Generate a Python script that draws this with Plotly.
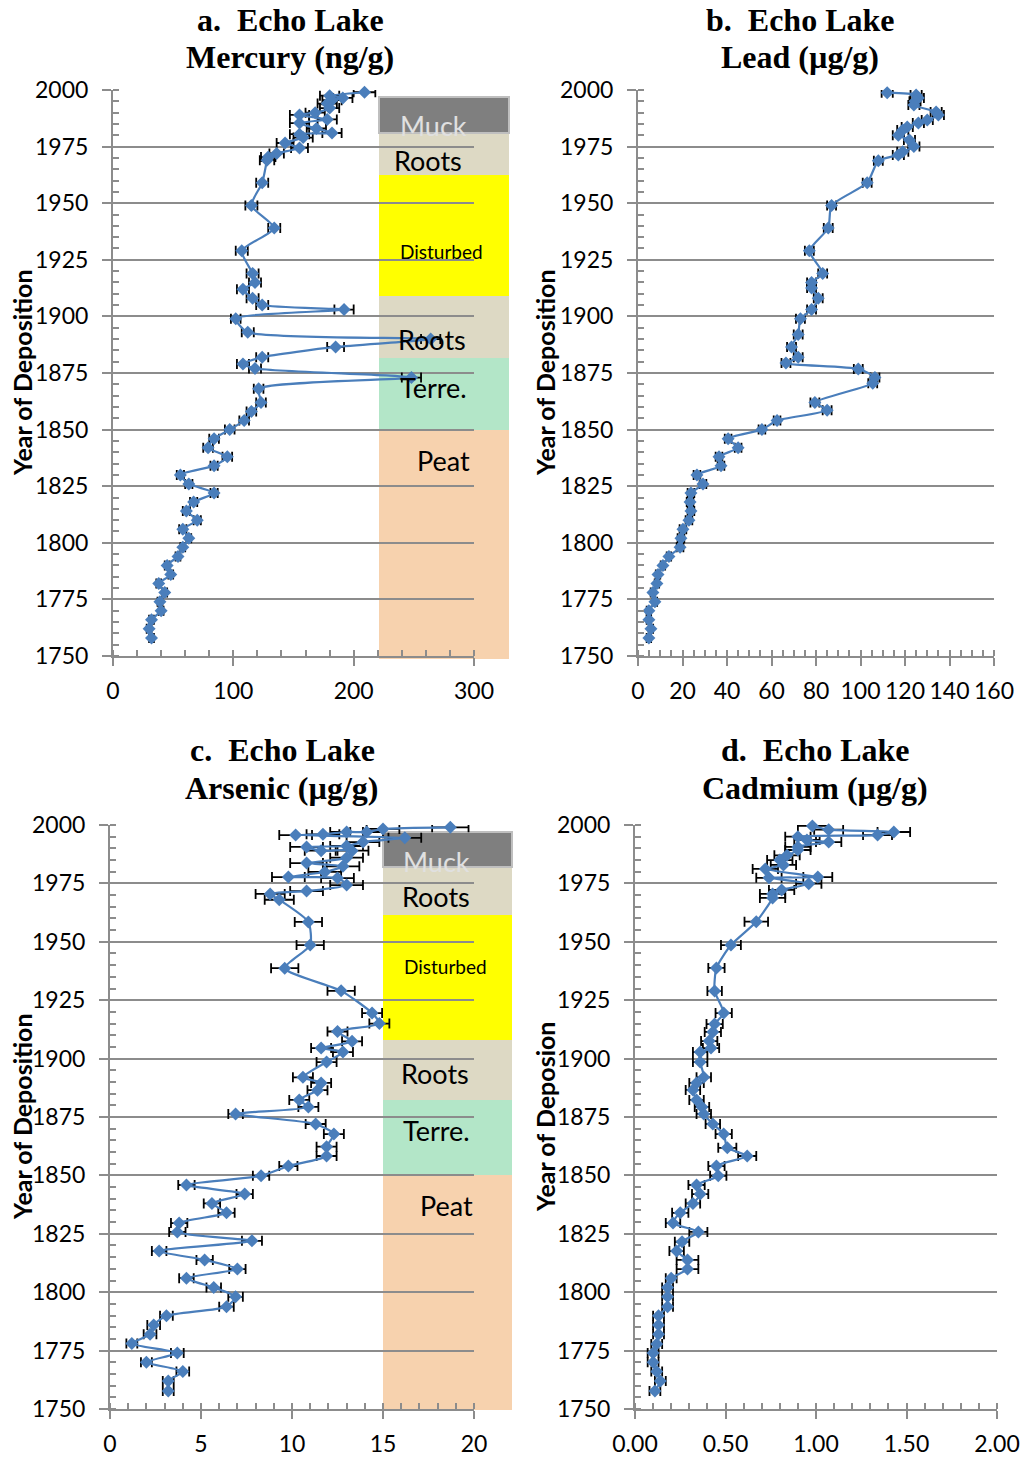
import plotly.graph_objects as go

# ---------------- data ----------------
hg_year = [1999, 1997.5, 1996.5, 1995.5, 1994, 1992, 1990, 1989, 1987, 1985.4, 1983, 1981, 1980.5, 1979, 1976.6,
           1974.4, 1972, 1970.4, 1969, 1959, 1949, 1939, 1929, 1919, 1915, 1912, 1908, 1905, 1903, 1899,
           1893, 1890, 1886.5, 1882, 1879, 1877, 1873, 1868, 1862, 1858, 1854, 1850, 1846, 1842, 1838,
           1834, 1830, 1826, 1822, 1818, 1814, 1810, 1806, 1802, 1798, 1794, 1790, 1786, 1782, 1778,
           1774, 1770, 1766, 1762, 1758]
hg_val = [209, 180, 191, 182, 178, 180, 168, 155, 178, 155, 169, 182, 155, 158, 143,
          155, 136, 129, 128, 124, 115, 134, 107, 116, 118, 108, 116, 124, 192, 102,
          112, 264, 185, 124, 108, 118, 248, 121, 123, 115, 109, 97, 84, 79, 95,
          84, 56, 63, 84, 67, 61, 70, 58, 63, 58, 54, 45, 48, 38, 43,
          39, 40, 32, 30, 32]
hg_err = [9, 8, 8, 8, 8, 8, 8, 8, 8, 8, 8, 8, 8, 8, 7,
          7, 6, 6, 6, 5, 5, 5, 5, 5, 5, 5, 5, 5, 8, 4,
          5, 8, 7, 5, 5, 5, 8, 4, 4, 4, 4, 4, 4, 4, 4,
          3, 3, 3, 3, 3, 3, 3, 3, 2, 2, 2, 2, 2, 2, 2,
          2, 2, 2, 2, 2]

pb_year = [1998.8, 1997.8, 1996.5, 1995, 1993.4, 1990.3, 1989, 1986.7, 1985.4, 1983.7, 1982.3, 1980, 1977.9,
           1975, 1972.7, 1971.3, 1968.7, 1959, 1949, 1939, 1929, 1919, 1915, 1912.5, 1908, 1903, 1899,
           1892, 1886.5, 1882, 1879.4, 1876.8, 1873, 1870.5, 1862, 1858.6, 1854, 1850, 1846, 1842, 1838,
           1834, 1830, 1826, 1822, 1818, 1814, 1810, 1806, 1802, 1798, 1794, 1790, 1786, 1782, 1778,
           1774, 1770, 1766, 1762, 1758]
pb_val = [112, 125, 126, 124.5, 124, 134, 135, 130, 126, 121, 119, 117, 122,
          124, 119, 117, 108, 103, 87, 85.5, 77, 83, 78, 78, 81, 78, 73,
          72, 69, 72, 66.5, 99, 106.5, 105.5, 79.5, 85, 62.5, 55.7, 40.5, 45, 36.4,
          37.3, 26.5, 29.2, 23.8, 23.4, 23.8, 22.9, 20.2, 19.3, 18.9, 13.9, 11.2, 9, 8.5, 6.7,
          7.6, 4.9, 4.9, 5.8, 4.9]
pb_err = [2.5, 2.5, 2.5, 2.5, 2.5, 2.5, 2.5, 2.5, 2.5, 2.5, 2.5, 2.5, 2.5,
          2.5, 2.5, 2.5, 2, 2, 2, 2, 2, 2, 2, 2, 2, 2, 2,
          2, 2, 2, 2, 2, 2, 2, 2, 2, 1.5, 1.5, 1.5, 1.5, 1.5,
          1.5, 1.5, 1.5, 1.5, 1.5, 1.5, 1.5, 1.5, 1.5, 1.5, 1, 1, 1, 1, 1,
          1, 1, 1, 1, 1]

as_year = [1999, 1998.3, 1997, 1997, 1996, 1995.7, 1994.5, 1992.7, 1991, 1990.6, 1989, 1989, 1986, 1983.7,
           1982.3, 1979.9, 1977.7, 1977.3, 1974.3, 1971.7, 1970.5, 1968, 1958.5, 1948.6, 1938.7, 1929,
           1919.5, 1915, 1911.6, 1907.4, 1904.5, 1902.8, 1898.5, 1892, 1889.6, 1886.5, 1882.3, 1879.3,
           1876.3, 1872, 1867.7, 1862.3, 1858.3, 1854, 1849.8, 1845.9, 1842, 1838, 1834, 1829.6, 1825.8,
           1822, 1817.6, 1813.8, 1809.9, 1806, 1802, 1798, 1793.8, 1789.9, 1786, 1782, 1778, 1774, 1770,
           1766, 1762, 1757.7]
as_val = [18.7, 15.0, 14.1, 13.0, 11.7, 10.2, 16.2, 13.9, 13.0, 10.8, 11.6, 13.3, 13.0, 10.8,
          12.8, 11.8, 9.8, 12.5, 13.0, 10.8, 8.8, 9.3, 10.9, 11.0, 9.6, 12.7,
          14.4, 14.8, 12.5, 13.3, 11.6, 12.8, 11.9, 10.6, 11.6, 11.4, 10.4, 10.9,
          6.9, 11.3, 12.3, 11.9, 11.9, 9.8, 8.3, 4.2, 7.4, 5.6, 6.4, 3.8, 3.7,
          7.8, 2.7, 5.2, 7.0, 4.2, 5.7, 6.9, 6.4, 3.1, 2.4, 2.2, 1.2, 3.7, 2.0,
          4.0, 3.2, 3.2]
as_err = [1.0, 0.9, 0.9, 0.9, 0.9, 0.9, 0.9, 0.9, 0.9, 0.9, 0.9, 0.9, 0.9, 0.9,
          0.9, 0.9, 0.9, 0.9, 0.9, 0.9, 0.8, 0.8, 0.75, 0.75, 0.75, 0.75,
          0.55, 0.55, 0.55, 0.55, 0.55, 0.55, 0.55, 0.55, 0.55, 0.55, 0.55, 0.55,
          0.4, 0.55, 0.55, 0.55, 0.55, 0.5, 0.45, 0.45, 0.45, 0.45, 0.45, 0.45, 0.45,
          0.55, 0.4, 0.45, 0.45, 0.4, 0.4, 0.4, 0.4, 0.35, 0.35, 0.35, 0.3, 0.35, 0.3,
          0.35, 0.3, 0.3]

cd_year = [1999.6, 1998, 1997, 1995.7, 1995, 1993.6, 1992.7, 1990.6, 1989.3, 1987, 1985, 1982.9, 1981.2,
           1977.7, 1977.4, 1974.9, 1972.2, 1970.5, 1968.8, 1958.6, 1948.6, 1938.8, 1928.9, 1919.5, 1914.8,
           1911.4, 1907.5, 1904.5, 1902.8, 1898.5, 1892, 1889.6, 1886.6, 1882.3, 1879.3, 1876.3, 1872,
           1867.7, 1861.8, 1858.3, 1854, 1849.8, 1845.9, 1842, 1838, 1834, 1829.6, 1825.8, 1821.6, 1817.6,
           1813.8, 1809.9, 1806, 1802, 1798, 1793.8, 1789.9, 1786, 1782, 1777.8, 1774, 1770, 1766, 1762,
           1757.7]
cd_val = [0.98, 1.07, 1.43, 1.34, 0.90, 0.95, 1.07, 0.90, 0.90, 0.84, 0.80, 0.82, 0.72,
          1.01, 0.74, 0.96, 0.81, 0.76, 0.76, 0.67, 0.53, 0.45, 0.44, 0.49, 0.44,
          0.43, 0.41, 0.42, 0.36, 0.36, 0.38, 0.34, 0.32, 0.34, 0.37, 0.38, 0.43,
          0.49, 0.51, 0.62, 0.45, 0.46, 0.34, 0.36, 0.32, 0.25, 0.21, 0.35, 0.26, 0.23,
          0.29, 0.29, 0.20, 0.18, 0.18, 0.18, 0.13, 0.13, 0.13, 0.12, 0.10, 0.10, 0.12, 0.14,
          0.11]
cd_err = [0.08, 0.08, 0.09, 0.08, 0.07, 0.07, 0.07, 0.07, 0.07, 0.07, 0.07, 0.07, 0.07,
          0.08, 0.07, 0.07, 0.07, 0.07, 0.07, 0.065, 0.055, 0.045, 0.04, 0.045, 0.045,
          0.045, 0.045, 0.045, 0.04, 0.04, 0.04, 0.04, 0.04, 0.04, 0.04, 0.04, 0.04,
          0.045, 0.05, 0.05, 0.045, 0.045, 0.045, 0.045, 0.04, 0.045, 0.04, 0.05, 0.04, 0.04,
          0.06, 0.06, 0.03, 0.03, 0.03, 0.03, 0.03, 0.03, 0.03, 0.03, 0.03, 0.03, 0.03, 0.03,
          0.03]

titles = [("a.\u00a0 Echo Lake", "Mercury (ng/g)"), ("b.\u00a0 Echo Lake", "Lead (µg/g)"),
          ("c.\u00a0 Echo Lake", "Arsenic (µg/g)"), ("d.\u00a0 Echo Lake", "Cadmium (µg/g)")]
ytitles = ["Year of Deposition", "Year of Deposition", "Year of Deposition", "Year of Deposion"]
zone_labels = ["Muck", "Roots", "Disturbed", "Roots", "Terre.", "Peat"]

# ---------------- layout helpers ----------------
W, H = 1024, 1458
def PX(x): return x / W
def PY(y): return 1 - y / H

BLUE = "#4a7ebb"
GRID = "#8c8c8c"
TICKFONT = dict(family="Lato", size=23, color="black")

panels = [
    dict(x0=113, x1=474, y0=90, y1=656, xr=[0, 300], dt=100, mdt=20, fmt="d",
         data=(hg_val, hg_year, hg_err), tx=290, ty=(20, 57), yx=22),
    dict(x0=638, x1=994, y0=90, y1=656, xr=[0, 160], dt=20, mdt=5, fmt="d",
         data=(pb_val, pb_year, pb_err), tx=800, ty=(20, 57), yx=545),
    dict(x0=110, x1=474, y0=825, y1=1409, xr=[0, 20], dt=5, mdt=1, fmt="d",
         data=(as_val, as_year, as_err), tx=282, ty=(750, 788), yx=22),
    dict(x0=635, x1=997, y0=825, y1=1409, xr=[0, 2], dt=0.5, mdt=0.1, fmt=".2f",
         data=(cd_val, cd_year, cd_err), tx=815, ty=(750, 788), yx=545),
]

fig = go.Figure()
layout = dict(width=W, height=H, margin=dict(l=0, r=0, t=0, b=0, autoexpand=False),
              paper_bgcolor="white", plot_bgcolor="rgba(0,0,0,0)",
              showlegend=False, shapes=[], annotations=[])

for i, p in enumerate(panels):
    n = "" if i == 0 else str(i + 1)
    xa, ya = "x" + n, "y" + n
    vals, years, errs = p["data"]
    fig.add_trace(go.Scatter(
        x=vals, y=years, xaxis=xa, yaxis=ya, mode="lines+markers",
        line=dict(color=BLUE, width=2.2, shape="spline", smoothing=0.6),
        marker=dict(symbol="diamond", size=10, color=BLUE),
        error_x=dict(type="data", array=errs, color="black", thickness=1.8, width=5),
        cliponaxis=False))
    layout["xaxis" + n] = dict(
        domain=[PX(p["x0"]), PX(p["x1"])], range=p["xr"], anchor=ya, automargin=False,
        showline=True, linecolor=GRID, linewidth=2, showgrid=False, zeroline=False,
        ticks="outside", ticklen=8, tickcolor=GRID, tickwidth=1.5,
        dtick=p["dt"], tick0=0, tickformat=p["fmt"], tickfont=TICKFONT,
        ticklabelstandoff=5,
        minor=dict(ticks="inside", ticklen=6, tickcolor=GRID, tickwidth=1.5,
                   dtick=p["mdt"], tick0=0, showgrid=False))
    layout["yaxis" + n] = dict(
        domain=[PY(p["y1"]), PY(p["y0"])], range=[1750, 2000], anchor=xa, automargin=False,
        showline=True, linecolor=GRID, linewidth=2, zeroline=False,
        showgrid=True, gridcolor=GRID, gridwidth=1.5,
        ticks="outside", ticklen=9, tickcolor=GRID, tickwidth=1.5,
        dtick=25, tick0=1750, tickfont=TICKFONT, ticklabelstandoff=9,
        minor=dict(ticks="inside", ticklen=6, tickcolor=GRID, tickwidth=1.5,
                   dtick=5, tick0=1750, showgrid=False))
    # titles
    cx = p["tx"]
    for line, yy in zip(titles[i], p["ty"]):
        layout["annotations"].append(dict(
            x=PX(cx), y=PY(yy), xref="paper", yref="paper", text="<b>" + line + "</b>",
            showarrow=False, xanchor="center", yanchor="middle",
            font=dict(family="Liberation Serif", size=32, color="black")))
    layout["annotations"].append(dict(
        x=PX(p["yx"]), y=PY((p["y0"] + p["y1"]) / 2), xref="paper", yref="paper",
        text="<b>" + ytitles[i] + "</b>", textangle=-90, showarrow=False,
        xanchor="center", yanchor="middle",
        font=dict(family="Lato", size=25, color="black")))

# stratigraphic zone boxes (pixel layout)
zone_fill = ["#7f7f7f", "#ddd9c4", "#ffff00", "#ddd9c4", "#b3e6c8", "#f7d2ae"]
zone_font = [("#e0e0e0", 27), ("black", 27), ("black", 19), ("black", 27), ("black", 27), ("black", 27)]
box_specs = [
    dict(xl=379, xr=509, edges=[97, 133, 175, 296, 358, 430, 659],
         lab=[(433, 126), (428, 161), (441, 251), (432, 340), (433, 387), (443, 460)]),
    dict(xl=383, xr=512, edges=[832, 867, 915, 1040, 1100, 1175, 1410],
         lab=[(436, 861), (436, 896), (445, 966), (435, 1073), (436, 1130), (446, 1205)]),
]
for b in box_specs:
    e = b["edges"]
    for k in range(6):
        top = e[k] if k != 1 else e[k] + 1
        layout["shapes"].append(dict(
            type="rect", xref="paper", yref="paper", layer="below",
            x0=PX(b["xl"]), x1=PX(b["xr"]), y0=PY(e[k + 1]), y1=PY(top),
            fillcolor=zone_fill[k],
            line=dict(color="#bfbfbf" if k == 0 else "rgba(0,0,0,0)", width=2 if k == 0 else 0)))
        lx, ly = b["lab"][k]
        col, sz = zone_font[k]
        layout["annotations"].append(dict(
            x=PX(lx), y=PY(ly), xref="paper", yref="paper", text=zone_labels[k],
            showarrow=False, xanchor="center", yanchor="middle",
            font=dict(family="Lato", size=sz, color=col)))

fig.update_layout(**layout)
fig.write_html("out.html", config={"displayModeBar": False},
               post_script="document.body.style.margin='0';document.body.style.overflow='hidden';")
